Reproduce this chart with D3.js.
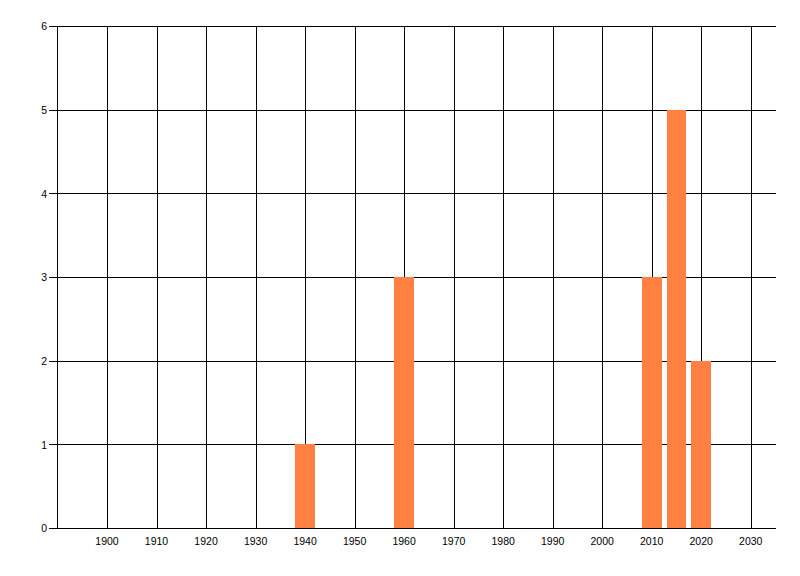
<!DOCTYPE html>
<html>
<head>
<meta charset="utf-8">
<script src="https://cdn.jsdelivr.net/npm/d3@7"></script>
<style>
  html, body { margin: 0; padding: 0; background: #fff; }
  svg { display: block; }
  text { font-family: "Liberation Sans", Arial, sans-serif; font-size: 10.5px; fill: #000; }
</style>
</head>
<body>
<svg id="chart" width="800" height="576"></svg>
<script>
// Data
const years = [1940, 1960, 2010, 2015, 2020];
const counts = [1, 3, 3, 5, 2];
const xTicks = [1900, 1910, 1920, 1930, 1940, 1950, 1960, 1970, 1980, 1990, 2000, 2010, 2020, 2030];
const yTicks = [0, 1, 2, 3, 4, 5, 6];

(function () {
const svg = d3.select("#chart");
const pLeft = 57.5, pRight = 775.5, pTop = 26.5, pBottom = 528.5;

const x = d3.scaleLinear().domain([1890, 2035]).range([pLeft, pRight]);
const y = d3.scaleLinear().domain([0, 6]).range([pBottom, pTop]);
const barYears = 4;

// vertical grid lines
svg.append("g").selectAll("line").data(xTicks).join("line")
  .attr("x1", d => Math.round(x(d)) + 0.5).attr("x2", d => Math.round(x(d)) + 0.5)
  .attr("y1", pTop).attr("y2", pBottom)
  .attr("stroke", "#000").attr("stroke-width", 1);

// horizontal grid lines with tick stubs
svg.append("g").selectAll("line").data(yTicks).join("line")
  .attr("x1", 49).attr("x2", pRight + 0.5)
  .attr("y1", d => Math.round(y(d) - 0.5) + 0.5).attr("y2", d => Math.round(y(d) - 0.5) + 0.5)
  .attr("stroke", "#000").attr("stroke-width", 1);

// left axis line
svg.append("line")
  .attr("x1", pLeft).attr("x2", pLeft).attr("y1", pTop).attr("y2", pBottom)
  .attr("stroke", "#000");

// bars
svg.append("g").selectAll("rect").data(years).join("rect")
  .attr("x", d => Math.round(x(d - barYears / 2)))
  .attr("width", d => Math.round(x(d + barYears / 2)) - Math.round(x(d - barYears / 2)))
  .attr("y", (d, i) => Math.round(y(counts[i]) - 0.5))
  .attr("height", (d, i) => Math.round(y(0) - 0.5) - Math.round(y(counts[i]) - 0.5))
  .attr("fill", "rgb(255,128,64)");

// y labels
svg.append("g").selectAll("text").data(yTicks).join("text")
  .attr("x", 47).attr("y", d => y(d))
  .attr("dy", "0.36em")
  .attr("text-anchor", "end")
  .text(d => d);

// x labels
svg.append("g").selectAll("text").data(xTicks).join("text")
  .attr("x", d => x(d)).attr("y", 545)
  .attr("text-anchor", "middle")
  .text(d => d);
})();
</script>
</body>
</html>
